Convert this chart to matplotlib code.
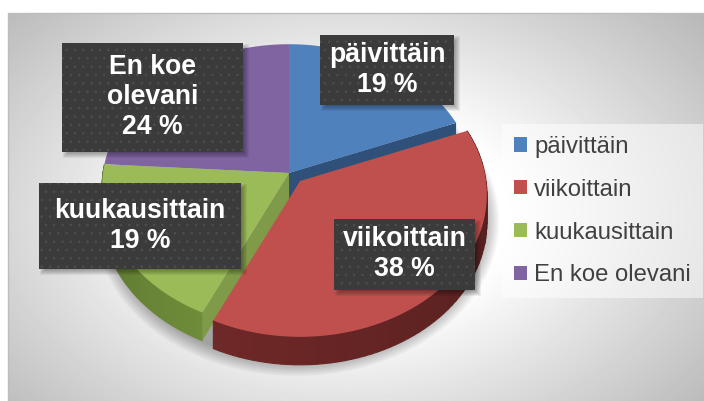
import numpy as np
import matplotlib
matplotlib.use("Agg")
import matplotlib.pyplot as plt
from matplotlib.patches import Rectangle, Patch

plt.rcParams['font.family'] = ['Liberation Sans', 'DejaVu Sans']
plt.rcParams['hatch.linewidth'] = 0.6

categories = ['päivittäin', 'viikoittain', 'kuukausittain', 'En koe olevani']
values = [19, 38, 19, 24]
colors = ['#4F81BD', '#C0504D', '#9BBB59', '#8064A2']
box_labels = ['päivittäin\n19 %', 'viikoittain\n38 %', 'kuukausittain\n19 %', 'En koe\nolevani\n24 %']

# label boxes in pixels: x0, y0, x1, y1
boxes = [(320, 35, 454, 105), (334, 219, 475, 290), (39, 183, 241, 269), (62, 43, 243, 152)]

W, H = 704, 401
CX, CY = 289, 173        # pie centre
RX, RY, K = 186, 141, 0.095   # perspective of the tilted disc
DEPTH = 28
RED_SHIFT = (11, 8)      # exploded slice


def project(theta, r=1.0, cx=CX, cy=CY):
    u = r * np.sin(theta)
    v = r * np.cos(theta)
    d = 1 + K * v
    return cx + RX * u / d, cy - RY * v / d


def wedge(t0, t1, cx=CX, cy=CY):
    t = np.linspace(t0, t1, 100)
    x, y = project(t, cx=cx, cy=cy)
    return np.r_[cx, x], np.r_[cy, y]


fig = plt.figure(figsize=(W / 100, H / 100), dpi=100)
ax = fig.add_axes([0, 0, 1, 1])

# radial background
yy, xx = np.mgrid[13:401, 8:704]
dist = np.hypot((xx - 345) / 400, (yy - 215) / 260)
shade = np.clip(1 - 0.25 * (dist - 0.4) / 0.7, 0.72, 1)
ax.imshow(shade, cmap='gray', vmin=0, vmax=1, extent=(8, 704, 401, 13), aspect='auto', zorder=0)
ax.plot([8, 8, 704], [401, 13, 13], color='#bdbdbd', lw=1, zorder=1)

edges = 2 * np.pi * np.cumsum([0] + values) / sum(values)

# soft shadow below the pie
for i in range(10):
    sx, sy = project(np.linspace(0, 2 * np.pi, 200), r=1.0 + i * 0.009, cx=CX + 8, cy=CY + DEPTH + 5)
    ax.fill(sx, sy, color='black', alpha=0.035, lw=0, zorder=2)

# side faces
a = edges[1]
px, py = project(a)
ax.fill([CX, px, px, CX], [CY, py, py + DEPTH, CY + DEPTH], color='#2F5078', lw=0, zorder=3)

# top faces blue and purple
for i in (0, 3):
    x, y = wedge(edges[i], edges[i + 1])
    ax.fill(x, y, color=colors[i], lw=0, zorder=4)


def rim(t0, t1, cx, cy, dark, light, zorder):
    # outer wall in short strips, darker towards one end of the arc
    ts = np.linspace(t0, t1, 70)
    dark = np.array(matplotlib.colors.to_rgb(dark))
    light = np.array(matplotlib.colors.to_rgb(light))
    for n in range(len(ts) - 1):
        x, y = project(ts[n:n + 2], cx=cx, cy=cy)
        f = n / (len(ts) - 2)
        c = dark * f + light * (1 - f)
        ax.fill([x[0], x[1], x[1], x[0]], [y[0], y[1], y[1] + DEPTH, y[0] + DEPTH],
                fc=c, ec=c, lw=0.8, zorder=zorder)


# green slice
rim(edges[2], edges[3], CX, CY, '#56702C', '#6F8C3A', 5)
gx, gy = project(edges[2])
ax.fill([CX, gx, gx, CX], [CY, gy, gy + DEPTH, CY + DEPTH], color='#7F9A48', lw=0, zorder=6)
x, y = wedge(edges[2], edges[3])
ax.fill(x, y, color=colors[2], lw=0, zorder=6)

# red slice, pulled out of the pie
rx0, ry0 = CX + RED_SHIFT[0], CY + RED_SHIFT[1]
rim(edges[2], edges[1], rx0, ry0, '#4F1E1D', '#6E2827', 7)
x, y = wedge(edges[1], edges[2], cx=rx0, cy=ry0)
ax.fill(x, y, color=colors[1], lw=0, zorder=8)

# data labels
for txt, (x0, y0, x1, y1) in zip(box_labels, boxes):
    for i in range(6):
        ax.add_patch(Rectangle((x0 + 6 - i, y0 + 6 - i), x1 - x0 + 2 * i - 5, y1 - y0 + 2 * i - 5,
                               fc='black', ec='none', alpha=0.06, zorder=9))
    ax.add_patch(Rectangle((x0, y0), x1 - x0, y1 - y0, fc='#3B3B3B', ec='#4E4E4E', lw=0,
                           hatch='..', zorder=10))
    ax.text((x0 + x1) / 2, (y0 + y1) / 2, txt, color='white', fontsize=19.2, fontweight='bold',
            ha='center', va='center', linespacing=1.2, zorder=11)

# legend
handles = [Patch(fc=c, ec='none') for c in colors]
leg = ax.legend(handles, categories, loc='upper left', bbox_to_anchor=(502 / W, 1 - 124 / H),
                bbox_transform=fig.transFigure, fontsize=17.2, labelcolor='#404040',
                frameon=True, fancybox=False, facecolor='white', edgecolor='none', framealpha=0.5,
                handlelength=0.55, handleheight=0.55, handletextpad=0.3, labelspacing=0.87,
                borderpad=0.5, borderaxespad=0)
leg.set_zorder(12)

ax.set_xlim(0, W)
ax.set_ylim(H, 0)
ax.axis('off')
fig.savefig('out.png', dpi=100)
